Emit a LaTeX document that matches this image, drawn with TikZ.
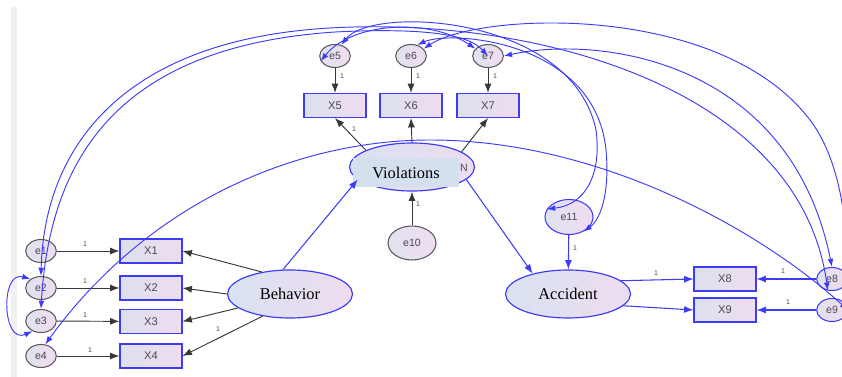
\documentclass[tikz,border=0pt]{standalone}
\usepackage{fontspec}
\setmainfont{Liberation Serif}
\setsansfont{Liberation Sans}
\usetikzlibrary{arrows.meta,shapes.geometric}
\definecolor{amosblue}{HTML}{3C3CF8}
\definecolor{pathgray}{HTML}{383838}
\definecolor{errgray}{HTML}{5A5A5A}
\definecolor{labgray}{HTML}{4A4A4A}
\definecolor{obsL}{HTML}{DCE0EE}
\definecolor{obsR}{HTML}{EFDCF0}
\definecolor{errL}{HTML}{E0E2F0}
\definecolor{errR}{HTML}{F0DCF0}
\definecolor{latL}{HTML}{D8E2F0}
\definecolor{latR}{HTML}{EEDCF0}
\definecolor{vbox}{HTML}{D5E0EE}
\definecolor{edgeband}{HTML}{F0F0F0}
\tikzset{
  obs/.style={rectangle, draw=amosblue, line width=0.9pt, minimum width=1.86cm,
    minimum height=0.72cm, inner sep=0pt, left color=obsL, right color=obsR,
    font=\sffamily\fontsize{9.5}{11}\selectfont, text=labgray},
  err/.style={ellipse, draw=errgray, line width=0.9pt, minimum width=0.92cm,
    minimum height=0.69cm, inner sep=0pt, left color=errL, right color=errR,
    font=\sffamily\fontsize{9}{10}\selectfont, text=labgray},
  errb/.style={err, draw=amosblue},
  lat/.style={ellipse, draw=amosblue, line width=1pt, minimum width=3.75cm,
    minimum height=1.44cm, inner sep=0pt, left color=latL, middle color=latL,
    right color=latR, font=\fontsize{14}{16}\selectfont},
  regpath/.style={draw=pathgray, line width=0.8pt, -{Latex[length=8pt,width=6pt]}},
  bluepath/.style={draw=amosblue, line width=0.9pt, -{Latex[length=8pt,width=6pt]}},
  cov/.style={draw=amosblue, line width=0.8pt,
    {Latex[length=7pt,width=5pt]}-{Latex[length=7pt,width=5pt]}},
  one/.style={font=\sffamily\fontsize{6}{7}\selectfont, text=labgray, inner sep=0pt},
}
\begin{document}
\begin{tikzpicture}[x=0.03cm,y=-0.03cm]
\useasboundingbox (0,0) rectangle (842,377);
\fill[white] (0,0) rectangle (842,377);
\fill[edgeband] (11,7) rectangle (17,377);

% latent variables
\node[lat] (beh) at (290,294) {Behavior};
\node[lat] (vio) at (412,167) {};
\node[fill=vbox, inner sep=0pt, minimum width=3.18cm, minimum height=0.87cm,
  font=\fontsize{14}{16}\selectfont] (viotext) at (406,172.5) {Violations};
\node[font=\sffamily\fontsize{9}{10}\selectfont, text=labgray, inner sep=0pt] (vion) at (464,168) {N};
\node[lat] (acc) at (568,294) {Accident};

% observed indicators
\node[obs] (x1) at (151,251) {X1};
\node[obs] (x2) at (151,288) {X2};
\node[obs] (x3) at (151,321.5) {X3};
\node[obs] (x4) at (151,356) {X4};
\node[obs] (x5) at (335,105.5) {X5};
\node[obs] (x6) at (411,105.5) {X6};
\node[obs] (x7) at (488,105.5) {X7};
\node[obs] (x8) at (725,279) {X8};
\node[obs] (x9) at (725,310) {X9};

% error terms
\node[err] (e1) at (41,251) {e1};
\node[err] (e2) at (41,288) {e2};
\node[err] (e3) at (41,321) {e3};
\node[err] (e4) at (41,356) {e4};
\node[err] (e5) at (335,56) {e5};
\node[err] (e6) at (411,56) {e6};
\node[err] (e7) at (488,56) {e7};
\node[errb] (e8) at (832,279) {e8};
\node[errb] (e9) at (832,310) {e9};
\node[err, minimum width=1.44cm, minimum height=1.02cm] (e10) at (412,243) {e10};
\node[errb, minimum width=1.44cm, minimum height=1.05cm] (e11) at (569,217) {e11};

% regression paths
\draw[regpath] (e1) -- (x1);
\draw[regpath] (e2) -- (x2);
\draw[regpath] (e3) -- (x3);
\draw[regpath] (e4) -- (x4);
\draw[regpath] (beh.142) -- (x1.east);
\draw[regpath] (beh.180) -- (x2.east);
\draw[regpath] (beh.195) -- (x3.east);
\draw[regpath] (beh.219) -- (x4.east);
\draw[regpath] (e5) -- (x5);
\draw[regpath] (e6) -- (x6);
\draw[regpath] (e7) -- (x7);
\draw[regpath] (vio.160) -- (x5.south);
\draw[regpath] (vio.north) -- (x6.south);
\draw[regpath] (vio.17) -- (x7.south);
\draw[regpath] (e10) -- (vio);

\draw[bluepath] (beh.106) -- (vio.193);
\draw[bluepath] (vio.347) -- (acc.150);
\draw[bluepath] (e11) -- (acc);
\draw[bluepath] (acc.14) -- (x8.west);
\draw[bluepath] (acc.348) -- (x9.west);
\draw[bluepath] (e8) -- (x8);
\draw[bluepath] (e9) -- (x9);

% fixed loadings
\node[one] (l1) at (85,244) {1};
\node[one] (l2) at (85,281) {1};
\node[one] (l3) at (85,315) {1};
\node[one] (l4) at (90,350) {1};
\node[one] (l5) at (218,329) {1};
\node[one] (l6) at (342,76) {1};
\node[one] (l7) at (418,76) {1};
\node[one] (l8) at (495,76) {1};
\node[one] (l9) at (354,129) {1};
\node[one] (l10) at (418,204) {1};
\node[one] (l11) at (575,248) {1};
\node[one] (l12) at (656,273) {1};
\node[one] (l13) at (783,271) {1};
\node[one] (l14) at (788,302) {1};

% covariances
\draw[cov] (e2.140) .. controls (0,270) and (2,345) .. (e3.230);
\draw[cov] (e2.north) .. controls (44,150) and (120,40) .. (330,28)
  .. controls (540,16) and (800,90) .. (e8.250);
\draw[cov] (e3.north) .. controls (50,150) and (126,46) .. (335,32)
  .. controls (455,26) and (475,42) .. (e7.center);
\draw[cov] (e4.70) .. controls (150,200) and (300,140) .. (430,140)
  .. controls (600,140) and (760,230) .. (e9.east);
\draw[cov] (e5.200) .. controls (352,22) and (430,18) .. (e7.150);
\draw[cov] (e5.60) .. controls (372,5) and (572,15) .. (596,130)
  .. controls (602,175) and (585,205) .. (e11.160);
\draw[cov] (e6.60) .. controls (450,30) and (595,40) .. (606,150)
  .. controls (610,195) and (600,220) .. (e11.-45);
\draw[cov] (e7.east) .. controls (600,35) and (790,60) .. (e8.north);
\draw[cov] (e6.30) .. controls (480,12) and (720,2) .. (810,120)
  .. controls (848,170) and (850,260) .. (e9.north east);
\end{tikzpicture}
\end{document}
